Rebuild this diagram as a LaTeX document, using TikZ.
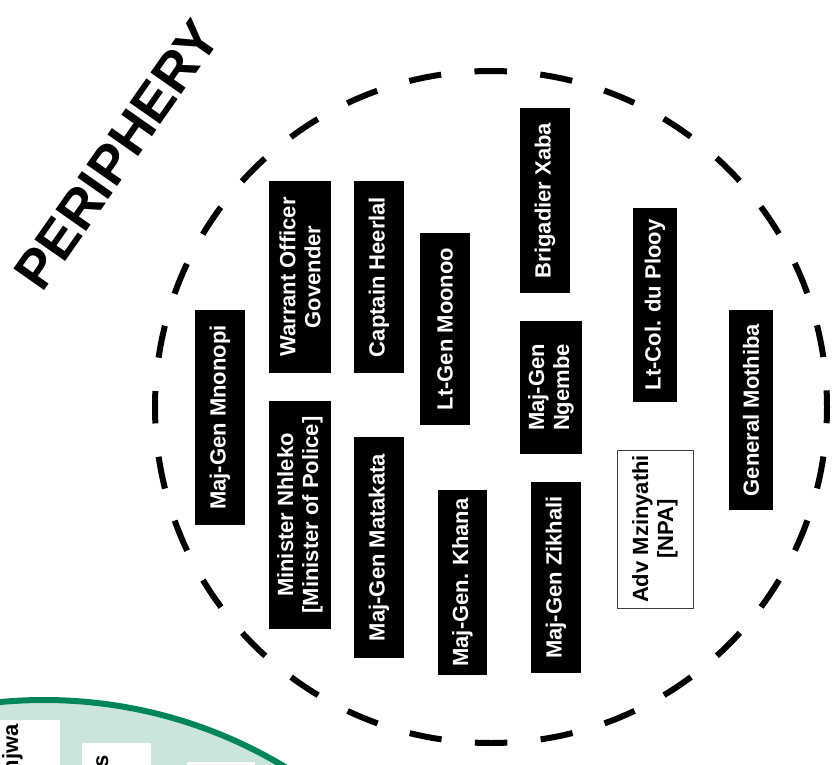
\documentclass[tikz,border=0pt]{standalone}
\usepackage{fontspec}
\setmainfont{Liberation Sans}
\definecolor{grn}{RGB}{0,134,88}
\definecolor{lgrn}{RGB}{204,229,220}
\begin{document}
\begin{tikzpicture}[x=1pt,y=-1pt,
  boxfont/.style={font=\bfseries\fontsize{22}{25}\selectfont},
  blk/.style={boxfont,fill=black,text=white,rotate=90,inner sep=0pt,align=center},
  wht/.style={boxfont,fill=white,draw=black!75,line width=0.8pt,text=black,rotate=90,inner sep=0pt,align=center},
  gbox/.style={fill=white,inner sep=0pt,anchor=north west},
  gtext/.style={boxfont,text=black,rotate=90,inner sep=0pt,anchor=base east},
  ring/.style={draw=black,line width=6pt,dash pattern=on 32.5pt off 33.47pt,dash phase=16.25pt}
]
\useasboundingbox (0,0) rectangle (833,765);
\fill[white] (0,0) rectangle (833,765);
% green core (partly visible)
\path[fill=lgrn,draw=grn,line width=6pt] (44,1167) circle[radius=467];
\node[gbox,minimum width=65pt,minimum height=80pt] (ga) at (-5,720) {};
\node[gbox,minimum width=69pt,minimum height=60pt] (gb) at (82,743) {};
\node[gbox,minimum width=68pt,minimum height=40pt] (gc) at (187,762) {};
\node[gtext] (gat) at (18,724) {njwa};
\node[gtext] (gbt) at (108,755) {s};
% periphery ring
\draw[ring] (491,407) circle[radius=336];
\node[rotate=55,font=\bfseries\fontsize{54.5}{54.5}\selectfont,inner sep=0pt] (title) at (117,155) {PERIPHERY};
% people
\node[blk,minimum width=215pt,minimum height=50pt] (mnonopi) at (220,417.5) {Maj-Gen Mnonopi};
\node[blk,minimum width=192pt,minimum height=62pt] (govender) at (300,277) {Warrant Officer\\Govender};
\node[blk,minimum width=228pt,minimum height=62pt] (nhleko) at (300,515) {Minister Nhleko\\{[Minister of Police]}};
\node[blk,minimum width=192pt,minimum height=50pt] (heerlal) at (379,277) {Captain Heerlal};
\node[blk,minimum width=221pt,minimum height=50pt] (matakata) at (379,547.5) {Maj-Gen Matakata};
\node[blk,minimum width=192pt,minimum height=50pt] (moonoo) at (445,329) {Lt-Gen Moonoo};
\node[blk,minimum width=185pt,minimum height=49pt] (khana) at (462.5,582.5) {Maj-Gen. Khana};
\node[blk,minimum width=185pt,minimum height=50pt] (xaba) at (545,200.5) {Brigadier Xaba};
\node[blk,minimum width=133pt,minimum height=62pt] (ngembe) at (551,387.5) {Maj-Gen\\Ngembe};
\node[blk,minimum width=191pt,minimum height=50pt] (zikhali) at (556,577.5) {Maj-Gen Zikhali};
\node[blk,minimum width=194pt,minimum height=44pt] (plooy) at (655,305) {Lt-Col. du Plooy};
\node[wht,minimum width=158pt,minimum height=76pt] (mzinyathi) at (655,529) {Adv Mzinyathi\\{[NPA]}};
\node[blk,minimum width=200pt,minimum height=44pt] (mothiba) at (751,410) {General Mothiba};
\end{tikzpicture}
\end{document}
